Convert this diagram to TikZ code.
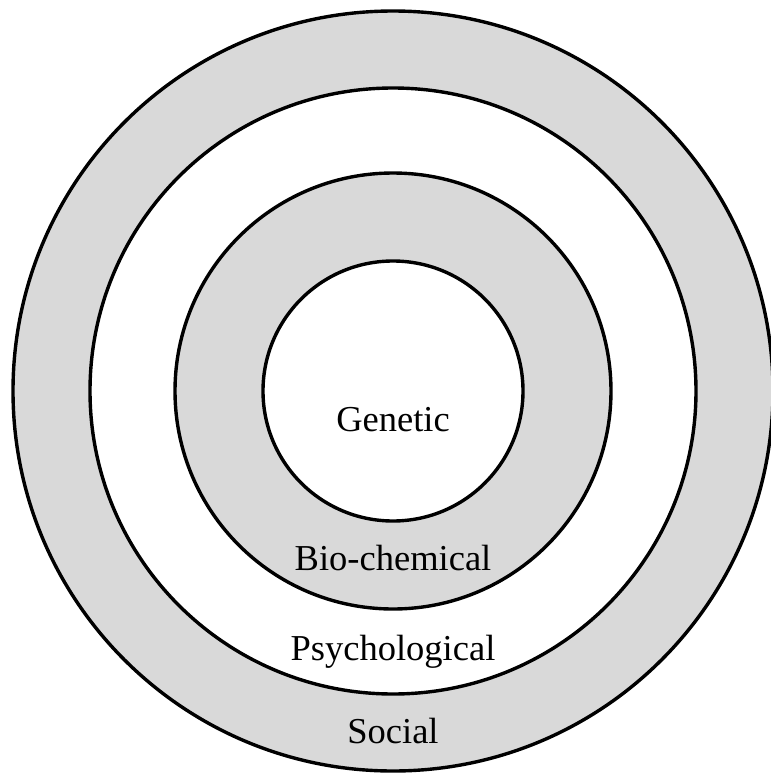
\documentclass[tikz,border=0pt]{standalone}
\usepackage{fontspec}
\setmainfont{Liberation Serif}
\tikzset{
  ring/.style={draw=black, line width=3.4pt},
  layername/.style={anchor=base, inner sep=0pt, font=\fontsize{36.5}{40}\selectfont}
}
\begin{document}
\begin{tikzpicture}[x=1pt,y=-1pt]
\useasboundingbox (0,0) rectangle (771,777);
\coordinate (c) at (393,391);
\draw[ring, fill=black!15] (c) circle[radius=380pt];
\draw[ring, fill=white] (c) circle[radius=303pt];
\draw[ring, fill=black!15] (c) circle[radius=218pt];
\draw[ring, fill=white] (c) circle[radius=130pt];
\node[layername] (gen) at (393,431) {Genetic};
\node[layername] (bio) at (393,570) {Bio-chemical};
\node[layername] (psy) at (393,660) {Psychological};
\node[layername] (soc) at (393,743) {Social};
\end{tikzpicture}
\end{document}
